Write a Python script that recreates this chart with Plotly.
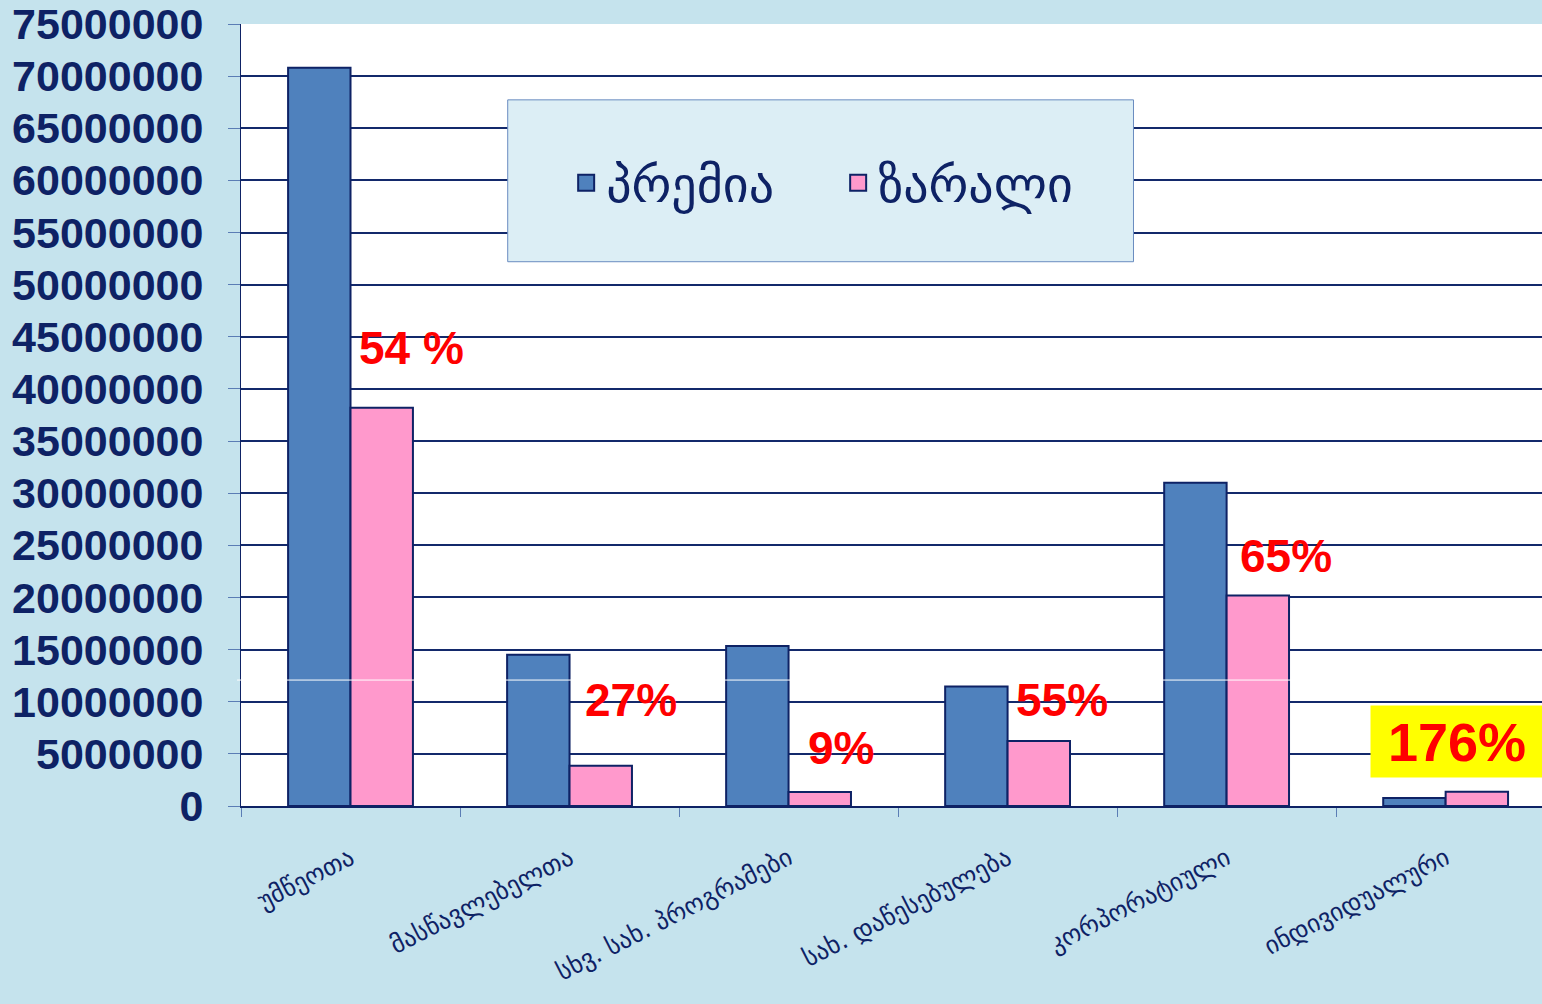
import plotly.graph_objects as go

# categories and series
categories = ['უმწეოთა', 'მასწავლებელთა', 'სხვ. სახ. პროგრამები',
              'სახ. დაწესებულება', 'კორპორატიული', 'ინდივიდუალური']
premia = [70800000, 14500000, 15350000, 11450000, 31000000, 770000]
zarali = [38200000, 3850000, 1340000, 6230000, 20200000, 1360000]
ratio_labels = ['54 %', '27%', '9%', '55%', '65%', '176%']

y_ticks = list(range(0, 75000001, 5000000))

NAVY = '#0E2265'
BG = '#C5E3ED'
BLUE = '#4F81BD'
PINK = '#FF99CC'

fig = go.Figure()
fig.add_trace(go.Bar(x=categories, y=premia, name='პრემია', showlegend=False,
                     marker=dict(color=BLUE, line=dict(color=NAVY, width=2))))
fig.add_trace(go.Bar(x=categories, y=zarali, name='ზარალი', showlegend=False,
                     marker=dict(color=PINK, line=dict(color=NAVY, width=2))))

# legend-only entries so the swatches can be larger than the default bar swatch
for name, col in [('პრემია', BLUE), ('ზარალი', PINK)]:
    fig.add_trace(go.Scatter(x=[None], y=[None], mode='markers', name=name,
                             marker=dict(symbol='square', size=16, color=col,
                                         line=dict(color=NAVY, width=2))))

# ratio labels, placed to the right of each pair
label_dx = [0.28, 0.28, 0.24, 0.25, 0.27, 0.05]
label_y = [43900000, 10200000, 5600000, 10200000, 24000000, 6200000]
for i, txt in enumerate(ratio_labels):
    last = i == len(ratio_labels) - 1
    fig.add_annotation(
        x=i + label_dx[i], y=label_y[i], text=txt, showarrow=False,
        xanchor='center', yanchor='middle',
        font=dict(family='Liberation Sans, Arial', size=54 if last else 46,
                  color='#FF0000', weight='bold'),
        bgcolor='#FFFF00' if last else None,
        width=170 if last else None, height=69 if last else None,
    )

# legend box
fig.add_shape(type='rect', xref='paper', yref='paper',
              x0=0.205, x1=0.686, y0=0.696, y1=0.903,
              fillcolor='#DCEEF5', line=dict(color='#6A8CC0', width=1), layer='above')
# thin white stripe across the bars
fig.add_shape(type='line', xref='paper', yref='y', x0=-0.003, x1=1,
              y0=12080000, y1=12080000, line=dict(color='white', width=1), layer='above')

fig.update_layout(
    width=1542, height=1004,
    paper_bgcolor=BG, plot_bgcolor='white',
    margin=dict(l=241, r=0, t=24, b=198),
    barmode='group', bargap=0.43, bargroupgap=0,
    showlegend=True,
    legend=dict(orientation='h', x=0.459, y=0.797, xanchor='center', yanchor='middle',
                bgcolor='rgba(0,0,0,0)', itemsizing='trace',
                font=dict(family='DejaVu Sans', size=50, color=NAVY),
                entrywidth=227),
    xaxis=dict(range=[-0.5, 5.44], showgrid=False, tickson='boundaries',
               ticks='outside', ticklen=9, tickcolor='#5B7DB5', tickwidth=1,
               showline=True, linecolor=NAVY, linewidth=2,
               tickangle=-27, ticklabelstandoff=26,
               tickfont=dict(family='DejaVu Sans', size=25, color=NAVY)),
    yaxis=dict(range=[0, 75000000], tickvals=y_ticks,
               ticktext=[str(v) for v in y_ticks],
               showgrid=True, gridcolor='#13296B', gridwidth=2,
               ticks='outside', ticklen=12, tickcolor='#5B7DB5', tickwidth=1,
               showline=True, linecolor=NAVY, linewidth=1,
               ticklabelstandoff=16, zeroline=False,
               tickfont=dict(family='Liberation Sans, Arial', size=43, color=NAVY, weight='bold')),
)

fig.write_html('out.html', config={'displayModeBar': False},
               post_script="document.body.style.margin='0';document.body.style.overflow='hidden';")
